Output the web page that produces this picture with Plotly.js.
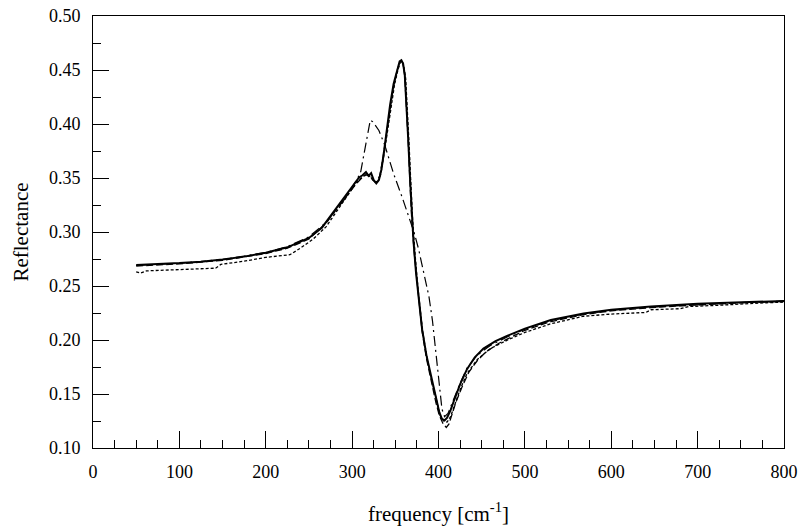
<!DOCTYPE html>
<html>
<head>
<meta charset="utf-8">
<script src="https://cdn.plot.ly/plotly-3.0.1.min.js"></script>
<style>html,body{margin:0;padding:0;background:#fff;}#chart{width:799px;height:531px;}</style>
</head>
<body>
<div id="chart"></div>
<script>
// Solid (thick) series
const solidX = [50,75,100,125,150,175,200,225,250,265,280,290,298,303,308,312,316,319,322,325,328,331,334,337,340,344,348,352,355,357,359,361,363,365,367,369,371,374,377,381,386,392,397,401,404,407,410,414,418,425,433,442,452,466,480,500,530,568,600,646,700,750,800];
const solidY = [0.2695,0.2702,0.2712,0.2725,0.2745,0.2772,0.2808,0.2858,0.2945,0.3040,0.3200,0.3310,0.3400,0.3455,0.3505,0.3525,0.3555,0.3520,0.3545,0.3480,0.3450,0.3480,0.3580,0.3750,0.3950,0.4180,0.4370,0.4500,0.4580,0.4590,0.4560,0.4450,0.4200,0.3850,0.3500,0.3180,0.2920,0.2620,0.2400,0.2100,0.1860,0.1640,0.1450,0.1330,0.1270,0.1255,0.1280,0.1350,0.1440,0.1590,0.1730,0.1840,0.1920,0.1990,0.2040,0.2105,0.2185,0.2245,0.2280,0.2310,0.2335,0.2350,0.2362];

// Dashed series
const dashX = [50,100,150,200,225,250,270,280,290,298,304,310,316,320,324,328,332,336,340,344,348,352,355,357,359,361,363,365,367,369,372,376,381,386,392,397,401,405,409,412,416,420,427,435,445,455,470,500,530,568,600,646,700,750,800];
const dashY = [0.2685,0.2705,0.2738,0.2800,0.2850,0.2935,0.3085,0.3190,0.3290,0.3375,0.3440,0.3490,0.3530,0.3520,0.3480,0.3460,0.3520,0.3700,0.3920,0.4150,0.4350,0.4490,0.4570,0.4585,0.4555,0.4440,0.4180,0.3820,0.3450,0.3120,0.2800,0.2450,0.2080,0.1830,0.1600,0.1420,0.1300,0.1230,0.1190,0.1220,0.1320,0.1420,0.1560,0.1700,0.1810,0.1890,0.1970,0.2090,0.2170,0.2235,0.2270,0.2300,0.2325,0.2345,0.2358];

// Dotted (short dash) series
const dotX = [50,55,62,75,90,110,130,142,148,175,200,228,240,255,270,285,295,300,306,312,317,321,325,329,333,337,341,345,349,353,356,358,360,362,364,366,368,370,373,377,382,387,393,398,402,406,410,414,418,425,433,445,460,480,500,530,568,600,640,646,680,690,720,750,780,800];
const dotY = [0.2630,0.2620,0.2640,0.2645,0.2650,0.2655,0.2660,0.2665,0.2700,0.2730,0.2765,0.2790,0.2850,0.2935,0.3050,0.3230,0.3350,0.3405,0.3470,0.3510,0.3540,0.3515,0.3470,0.3455,0.3530,0.3720,0.3950,0.4170,0.4360,0.4500,0.4575,0.4580,0.4530,0.4420,0.4150,0.3800,0.3450,0.3120,0.2780,0.2420,0.2060,0.1820,0.1600,0.1420,0.1300,0.1250,0.1240,0.1290,0.1380,0.1540,0.1690,0.1820,0.1920,0.2000,0.2070,0.2150,0.2220,0.2240,0.2255,0.2280,0.2290,0.2310,0.2320,0.2335,0.2345,0.2350];

// Dash-dot (model) series
const modelX = [50,100,150,200,225,250,270,285,295,302,306,310,315,318,321,324,328,331,338,348,358,367,372,377,381,385,389,393,396,399,402,404,407,411,417,425,433,445,460,480,500,530,568,600,646,700,750,800];
const modelY = [0.2690,0.2710,0.2745,0.2810,0.2865,0.2955,0.3090,0.3240,0.3340,0.3440,0.3490,0.3560,0.3780,0.3920,0.4035,0.4020,0.3970,0.3940,0.3800,0.3540,0.3320,0.3110,0.2990,0.2840,0.2700,0.2560,0.2400,0.2180,0.1960,0.1780,0.1520,0.1360,0.1290,0.1320,0.1440,0.1600,0.1740,0.1860,0.1950,0.2030,0.2100,0.2180,0.2240,0.2275,0.2305,0.2330,0.2347,0.2360];

const xTickVals = [0,100,200,300,400,500,600,700,800];
const yTickVals = [0.10,0.15,0.20,0.25,0.30,0.35,0.40,0.45,0.50];
const yTickText = ['0.10','0.15','0.20','0.25','0.30','0.35','0.40','0.45','0.50'];

const traces = [
  {x: modelX, y: modelY, mode:'lines', line:{color:'#000', width:1.2, dash:'10px,4px,2px,4px'}},
  {x: dotX, y: dotY, mode:'lines', line:{color:'#000', width:1.3, dash:'3px,2px'}},
  {x: dashX, y: dashY, mode:'lines', line:{color:'#000', width:1.3, dash:'7px,3px'}},
  {x: solidX, y: solidY, mode:'lines', line:{color:'#000', width:2}}
];

const fam = 'Liberation Serif, Times New Roman, Times, serif';

const layout = {
  width:799, height:531,
  margin:{l:93, r:15, t:16, b:83},
  paper_bgcolor:'#fff', plot_bgcolor:'#fff',
  showlegend:false,
  font: {family:fam, color:'#000', size:18},
  xaxis:{
    range:[0,800], tickvals:xTickVals, ticktext:xTickVals.map(String),
    ticks:'inside', ticklen:17, tickwidth:1, tickcolor:'#000',
    minor:{dtick:25, ticks:'inside', ticklen:8, tickwidth:1, tickcolor:'#000'},
    showline:true, linecolor:'#000', linewidth:1, mirror:true,
    showgrid:false, zeroline:false,
    ticklabelstandoff:7,
    tickfont:{family:fam, color:'#000', size:18},
    title:{text:'frequency [cm<sup>-1</sup>]', font:{family:fam, color:'#000', size:21}, standoff:25}
  },
  yaxis:{
    range:[0.10,0.50], tickvals:yTickVals, ticktext:yTickText,
    ticks:'inside', ticklen:16, tickwidth:1, tickcolor:'#000',
    minor:{dtick:0.025, ticks:'inside', ticklen:8, tickwidth:1, tickcolor:'#000'},
    showline:true, linecolor:'#000', linewidth:1, mirror:true,
    showgrid:false, zeroline:false,
    ticklabelstandoff:8,
    tickfont:{family:fam, color:'#000', size:18},
    title:{text:'Reflectance', font:{family:fam, color:'#000', size:21}, standoff:14}
  }
};

Plotly.newPlot('chart', traces, layout, {staticPlot:true, displayModeBar:false});
</script>
</body>
</html>
